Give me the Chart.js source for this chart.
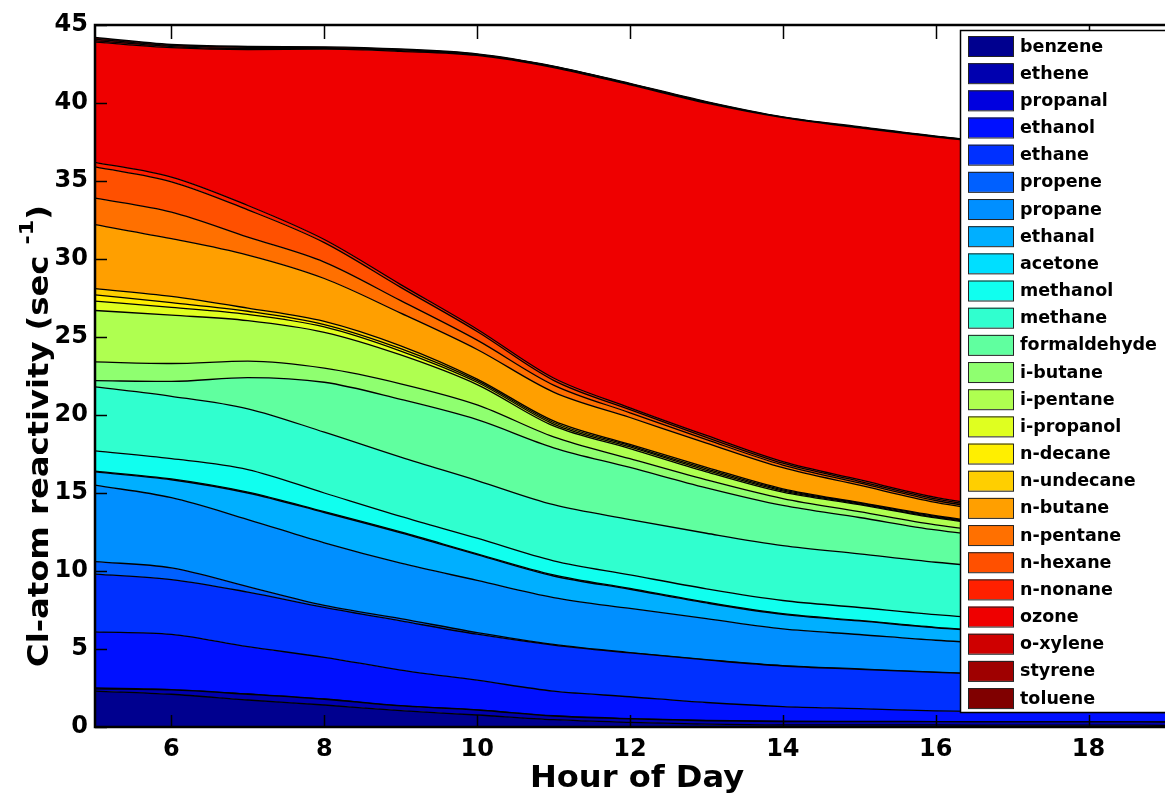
<!DOCTYPE html>
<html>
<head>
<meta charset="utf-8">
<script src="https://cdn.jsdelivr.net/npm/chart.js@4/dist/chart.umd.min.js"></script>
<style>
  html, body { margin: 0; padding: 0; background: #fff; }
</style>
</head>
<body>
<canvas id="chart" width="1165" height="796"></canvas>
<script>
// hour of day and axis ticks
var hours = [5, 6, 7, 8, 9, 10, 11, 12, 13, 14, 15, 16, 17, 18, 19];
var xTicks = [6, 8, 10, 12, 14, 16, 18];
var yTicks = [0, 5, 10, 15, 20, 25, 30, 35, 40, 45];

// Cl-atom reactivity per species (sec^-1)
var benzene     = [2.3, 2.1, 1.73, 1.41, 1.05, 0.77, 0.47, 0.3, 0.18, 0.13, 0.13, 0.13, 0.12, 0.12, 0.11];
var ethene      = [0.15, 0.28, 0.37, 0.37, 0.3, 0.32, 0.23, 0.22, 0.22, 0.22, 0.21, 0.21, 0.21, 0.21, 0.21];
var propanal    = [0.05, 0.02, 0.02, 0.02, 0.02, 0.01, 0.02, 0.02, 0.02, 0.02, 0.02, 0.01, 0.01, 0.01, 0.01];
var ethanol     = [3.6, 3.54, 3.03, 2.67, 2.28, 1.9, 1.58, 1.4, 1.15, 0.94, 0.82, 0.68, 0.63, 0.61, 0.6];
var ethane      = [3.7, 3.51, 3.5, 3.2, 3.15, 2.95, 2.95, 2.81, 2.73, 2.6, 2.52, 2.47, 2.36, 2.25, 2.15];
var propene     = [0.8, 0.75, 0.35, 0.13, 0.15, 0.1, 0.05, 0.02, 0.02, 0.02, 0.02, 0.01, 0.01, 0.01, 0.01];
var propane     = [4.9, 4.5, 4.3, 4.0, 3.55, 3.35, 3.0, 2.83, 2.63, 2.36, 2.21, 2.05, 1.96, 1.86, 1.78];
var ethanal     = [0.85, 1.15, 1.7, 1.95, 1.95, 1.65, 1.38, 1.23, 1.0, 0.93, 0.87, 0.8, 0.75, 0.71, 0.68];
var acetone     = [0.05, 0.05, 0.05, 0.05, 0.05, 0.05, 0.07, 0.05, 0.05, 0.04, 0.03, 0.03, 0.03, 0.03, 0.03];
var methanol    = [1.3, 1.3, 1.45, 1.2, 1.0, 1.0, 0.9, 0.87, 0.86, 0.85, 0.83, 0.81, 0.77, 0.74, 0.72];
var methane     = [4.1, 4.0, 3.9, 3.9, 3.8, 3.7, 3.6, 3.55, 3.56, 3.52, 3.44, 3.36, 3.3, 3.25, 3.2];
var formaldehyde= [0.4, 0.95, 2.0, 3.2, 3.7, 3.9, 3.65, 3.34, 2.91, 2.57, 2.33, 2.07, 1.9, 1.75, 1.6];
var iButane     = [1.2, 1.15, 1.05, 0.9, 1.0, 0.95, 0.7, 0.56, 0.51, 0.44, 0.37, 0.32, 0.3, 0.3, 0.3];
var iPentane    = [3.3, 3.1, 2.6, 2.3, 1.85, 1.3, 0.7, 0.65, 0.52, 0.41, 0.45, 0.45, 0.4, 0.35, 0.35];
var iPropanol   = [0.6, 0.5, 0.4, 0.35, 0.25, 0.15, 0.12, 0.1, 0.09, 0.08, 0.05, 0.05, 0.05, 0.05, 0.05];
var nDecane     = [0.4, 0.3, 0.2, 0.15, 0.15, 0.1, 0.1, 0.08, 0.1, 0.07, 0.05, 0.05, 0.05, 0.05, 0.05];
var nUndecane   = [0.4, 0.4, 0.2, 0.2, 0.18, 0.1, 0.1, 0.08, 0.1, 0.07, 0.05, 0.05, 0.05, 0.05, 0.05];
var nButane     = [4.1, 3.7, 3.4, 2.75, 2.1, 1.9, 1.85, 1.73, 1.55, 1.35, 1.1, 0.85, 0.75, 0.7, 0.65];
var nPentane    = [1.7, 1.7, 1.15, 1.05, 0.8, 0.6, 0.45, 0.3, 0.22, 0.17, 0.15, 0.12, 0.1, 0.1, 0.1];
var nHexane     = [2.0, 1.95, 1.75, 1.25, 0.85, 0.55, 0.3, 0.2, 0.15, 0.12, 0.1, 0.1, 0.1, 0.1, 0.1];
var nNonane     = [0.3, 0.3, 0.28, 0.2, 0.18, 0.15, 0.15, 0.12, 0.12, 0.1, 0.1, 0.1, 0.1, 0.1, 0.1];
var ozone       = [7.7, 8.3, 10.0, 12.2, 14.95, 17.55, 19.9, 20.7, 21.3, 22.05, 22.55, 23.1, 23.4, 23.6, 23.8];
var oXylene     = [0.1, 0.07, 0.07, 0.05, 0.05, 0.04, 0.04, 0.04, 0.04, 0.02, 0.03, 0.02, 0.02, 0.01, 0.01];
var styrene     = [0.1, 0.07, 0.07, 0.05, 0.05, 0.03, 0.03, 0.03, 0.03, 0.02, 0.02, 0.02, 0.01, 0.01, 0.01];
var toluene     = [0.1, 0.06, 0.06, 0.05, 0.05, 0.03, 0.03, 0.03, 0.03, 0.01, 0.03, 0.02, 0.01, 0.01, 0.01];

var species = ['benzene', 'ethene', 'propanal', 'ethanol', 'ethane', 'propene', 'propane',
  'ethanal', 'acetone', 'methanol', 'methane', 'formaldehyde', 'i-butane', 'i-pentane',
  'i-propanol', 'n-decane', 'n-undecane', 'n-butane', 'n-pentane', 'n-hexane', 'n-nonane',
  'ozone', 'o-xylene', 'styrene', 'toluene'];
var values = [benzene, ethene, propanal, ethanol, ethane, propene, propane, ethanal, acetone,
  methanol, methane, formaldehyde, iButane, iPentane, iPropanol, nDecane, nUndecane, nButane,
  nPentane, nHexane, nNonane, ozone, oXylene, styrene, toluene];

// jet colormap, one colour per species
var jet = ['#00008F', '#0000AF', '#0000DF', '#0010FF', '#0030FF', '#0060FF', '#008FFF',
  '#00AFFF', '#00DFFF', '#10FFEF', '#30FFCF', '#60FF9F', '#8FFF70', '#AFFF50', '#DFFF20',
  '#FFEF00', '#FFCF00', '#FF9F00', '#FF7000', '#FF5000', '#FF2000', '#EF0000', '#CF0000',
  '#9F0000', '#800000'];

var FONT = 'DejaVu Sans';

function line(ctx, x1, y1, x2, y2) {
  ctx.beginPath();
  ctx.moveTo(x1, y1);
  ctx.lineTo(x2, y2);
  ctx.stroke();
}

// axes box, inward ticks, titles and the legend box, matlab style
var decorations = {
  id: 'decorations',
  afterDraw: function (chart) {
    var ctx = chart.ctx;
    var a = chart.chartArea;
    var xs = chart.scales.x, ys = chart.scales.y;
    ctx.save();
    ctx.strokeStyle = '#000';

    ctx.lineWidth = 1.5;
    xTicks.forEach(function (v) {
      var px = Math.round(xs.getPixelForValue(v)) + 0.5;
      line(ctx, px, a.bottom, px, a.bottom - 12);
      line(ctx, px, a.top, px, a.top + 14);
    });
    yTicks.forEach(function (v) {
      var py = Math.round(ys.getPixelForValue(v)) + 0.5;
      line(ctx, a.left, py, a.left + 12, py);
    });

    ctx.lineWidth = 2.5;
    ctx.beginPath();
    ctx.moveTo(a.right + 2, a.top);
    ctx.lineTo(a.left, a.top);
    ctx.lineTo(a.left, a.bottom);
    ctx.lineTo(a.right + 2, a.bottom);
    ctx.stroke();

    // x title
    ctx.fillStyle = '#000';
    ctx.font = 'bold 30px ' + FONT;
    ctx.textAlign = 'center';
    ctx.textBaseline = 'alphabetic';
    ctx.save();
    ctx.translate(637, 787);
    ctx.scale(1.07, 1);
    ctx.fillText('Hour of Day', 0, 0);
    ctx.restore();

    // y title with superscript, stretched along its length
    var main = 'Cl-atom reactivity (sec ';
    ctx.font = 'bold 29px ' + FONT;
    var w1 = ctx.measureText(main).width;
    var w3 = ctx.measureText(')').width;
    ctx.font = 'bold 20px ' + FONT;
    var w2 = ctx.measureText('-1').width;
    var total = w1 + w2 + w3;
    ctx.translate(48, 436);
    ctx.rotate(-Math.PI / 2);
    ctx.scale(1.11, 1);
    ctx.textAlign = 'left';
    ctx.font = 'bold 29px ' + FONT;
    ctx.fillText(main, -total / 2, 0);
    ctx.font = 'bold 20px ' + FONT;
    ctx.fillText('-1', -total / 2 + w1, -15);
    ctx.font = 'bold 29px ' + FONT;
    ctx.fillText(')', -total / 2 + w1 + w2, 0);
    ctx.setTransform(1, 0, 0, 1, 0, 0);

    // legend
    var lx = 960, ly = 30, lh = 682;
    ctx.fillStyle = '#fff';
    ctx.fillRect(lx, ly, 220, lh);
    ctx.strokeStyle = '#000';
    ctx.lineWidth = 1.5;
    ctx.strokeRect(lx + 0.5, ly + 0.5, 220, lh);
    ctx.font = 'bold 17.5px ' + FONT;
    ctx.textAlign = 'left';
    ctx.textBaseline = 'middle';
    species.forEach(function (name, i) {
      var cy = 46 + i * 27.17;
      ctx.fillStyle = jet[i];
      ctx.fillRect(968, cy - 10, 45, 20);
      ctx.lineWidth = 1;
      ctx.strokeStyle = '#222';
      ctx.strokeRect(968.5, cy - 9.5, 45, 20);
      ctx.fillStyle = '#000';
      ctx.fillText(name, 1020, cy + 1);
    });
    ctx.restore();
  }
};

var datasets = species.map(function (name, i) {
  return {
    label: name,
    data: values[i],
    backgroundColor: jet[i],
    borderColor: '#000',
    borderWidth: 1.3,
    fill: i === 0 ? 'origin' : '-1',
    pointRadius: 0,
    cubicInterpolationMode: 'monotone'
  };
});

new Chart(document.getElementById('chart'), {
  type: 'line',
  data: { labels: hours, datasets: datasets },
  options: {
    responsive: false,
    animation: false,
    devicePixelRatio: 1,
    layout: { padding: { top: 25, right: 0, left: 0, bottom: 0 } },
    plugins: { legend: { display: false }, tooltip: { enabled: false } },
    scales: {
      x: {
        type: 'linear',
        min: 5,
        max: 19,
        afterBuildTicks: function (s) { s.ticks = xTicks.map(function (v) { return { value: v }; }); },
        afterFit: function (s) { s.height = 69; },
        grid: { display: false, drawTicks: false },
        border: { display: false },
        ticks: { padding: 8, color: '#000', font: { family: FONT, size: 24, weight: 'bold' } }
      },
      y: {
        stacked: true,
        min: 0,
        max: 45,
        afterBuildTicks: function (s) { s.ticks = yTicks.map(function (v) { return { value: v }; }); },
        afterFit: function (s) { s.width = 95; },
        grid: { display: false, drawTicks: false },
        border: { display: false },
        ticks: { padding: 7, color: '#000', font: { family: FONT, size: 24, weight: 'bold' } }
      }
    }
  },
  plugins: [decorations]
});
</script>
</body>
</html>
